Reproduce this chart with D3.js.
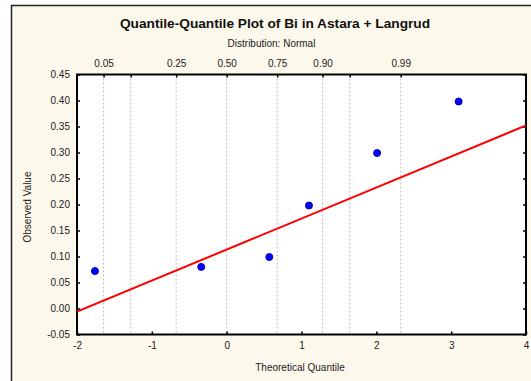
<!DOCTYPE html>
<html><head><meta charset="utf-8">
<script src="https://cdn.jsdelivr.net/npm/d3@7"></script>
<style>body{margin:0;background:#fff;}svg{display:block;font-family:"Liberation Sans",Arial,sans-serif;}</style>
</head><body><svg id="c" width="531" height="381"></svg>
<script>
const theoretical = [-1.76, -0.34, 0.57, 1.10, 2.01, 3.10];
const observed = [0.072, 0.080, 0.099, 0.198, 0.299, 0.398];
const fitLine = [[-2, -0.006], [4, 0.352]];
const xTicks = [-2, -1, 0, 1, 2, 3, 4];
const yTicks = [-0.05, 0, 0.05, 0.10, 0.15, 0.20, 0.25, 0.30, 0.35, 0.40, 0.45];
const probTicks = [0.05, 0.10, 0.25, 0.50, 0.75, 0.90, 0.95, 0.99];
const probLabels = [0.05, 0.25, 0.50, 0.75, 0.90, 0.99];

function invNorm(p){ // inverse normal CDF (Acklam)
  const a=[-3.969683028665376e+01,2.209460984245205e+02,-2.759285104469687e+02,1.383577518672690e+02,-3.066479806614716e+01,2.506628277459239e+00];
  const b=[-5.447609879822406e+01,1.615858368580409e+02,-1.556989798598866e+02,6.680131188771972e+01,-1.328068155288572e+01];
  const c=[-7.784894002430293e-03,-3.223964580411365e-01,-2.400758277161838e+00,-2.549732539343734e+00,4.374664141464968e+00,2.938163982698783e+00];
  const d=[7.784695709041462e-03,3.224671290700398e-01,2.445134137142996e+00,3.754408661907416e+00];
  const pl=0.02425;
  if(p<pl){const q=Math.sqrt(-2*Math.log(p));return (((((c[0]*q+c[1])*q+c[2])*q+c[3])*q+c[4])*q+c[5])/((((d[0]*q+d[1])*q+d[2])*q+d[3])*q+1);}
  if(p>1-pl){const q=Math.sqrt(-2*Math.log(1-p));return -(((((c[0]*q+c[1])*q+c[2])*q+c[3])*q+c[4])*q+c[5])/((((d[0]*q+d[1])*q+d[2])*q+d[3])*q+1);}
  const q=p-0.5,r=q*q;return (((((a[0]*r+a[1])*r+a[2])*r+a[3])*r+a[4])*r+a[5])*q/(((((b[0]*r+b[1])*r+b[2])*r+b[3])*r+b[4])*r+1);
}

const svg = d3.select("#c");
svg.append("rect").attr("x",11.5).attr("y",5.5).attr("width",540).attr("height",400)
  .attr("fill","#fdf8ec").attr("stroke","#222").attr("stroke-width",1.5);

const L=77, R=526, T=74.5, B=334.5;
const x = d3.scaleLinear().domain([-2,4]).range([L,R]);
const y = d3.scaleLinear().domain([-0.05,0.45]).range([B,T]);

svg.append("rect").attr("x",L).attr("y",T).attr("width",R-L).attr("height",B-T).attr("fill","#fff");

svg.append("g").selectAll("line").data(probTicks).enter().append("line")
  .attr("x1",p=>x(invNorm(p))).attr("x2",p=>x(invNorm(p)))
  .attr("y1",T).attr("y2",B).attr("stroke","#bbb").attr("stroke-width",1).attr("stroke-dasharray","2,2");

const hy = s => s.replace("\u2212","-");
const ax = (gen, tr) => svg.append("g").attr("transform",tr).call(gen)
  .call(s=>s.select(".domain").remove())
  .call(s=>s.selectAll("line").attr("stroke","#000").attr("stroke-width",1.5))
  .call(s=>s.selectAll("text").attr("font-size","10px").attr("fill","#222").attr("font-family","Liberation Sans, Arial, sans-serif"));

ax(d3.axisLeft(y).tickValues(yTicks).tickFormat(d=>hy(d3.format(".2f")(d))).tickSizeInner(-3).tickSizeOuter(0).tickPadding(7), `translate(${L},0)`);
ax(d3.axisRight(y).tickValues(yTicks).tickFormat("").tickSizeInner(-3).tickSizeOuter(0), `translate(${R},0)`);
ax(d3.axisBottom(x).tickValues(xTicks).tickFormat(d=>hy(d3.format("d")(d))).tickSizeInner(-3).tickSizeOuter(0).tickPadding(7), `translate(0,${B})`);
ax(d3.axisTop(x).tickValues(probTicks.map(invNorm)).tickFormat((d,i)=>probLabels.includes(probTicks[i])?d3.format(".2f")(probTicks[i]):"").tickSizeInner(-3).tickSizeOuter(0).tickPadding(8), `translate(0,${T})`);

svg.append("rect").attr("x",L).attr("y",T).attr("width",R-L).attr("height",B-T)
  .attr("fill","none").attr("stroke","#000").attr("stroke-width",2);

svg.append("clipPath").attr("id","cp").append("rect").attr("x",L).attr("y",T).attr("width",R-L).attr("height",B-T);

svg.append("path").datum(fitLine).attr("clip-path","url(#cp)")
  .attr("d",d3.line().x(d=>x(d[0])).y(d=>y(d[1])))
  .attr("stroke","#f00").attr("stroke-width",2).attr("fill","none");

svg.selectAll("circle.pt").data(theoretical).enter().append("circle")
  .attr("cx",d=>x(d)).attr("cy",(d,i)=>y(observed[i])).attr("r",3.5)
  .attr("fill","#0000ff").attr("stroke","#0000b0").attr("stroke-width",1);

svg.append("text").attr("x",275).attr("y",28).attr("text-anchor","middle")
  .attr("font-size","13.7px").attr("font-weight","bold").attr("fill","#111").text("Quantile-Quantile Plot of Bi in Astara + Langrud");
svg.append("text").attr("x",271.5).attr("y",47).attr("text-anchor","middle")
  .attr("font-size","10px").attr("fill","#222").text("Distribution: Normal");
svg.append("text").attr("x",300).attr("y",371).attr("text-anchor","middle")
  .attr("font-size","10px").attr("fill","#222").text("Theoretical Quantile");
svg.append("text").attr("transform","translate(31,207) rotate(-90)").attr("text-anchor","middle")
  .attr("font-size","10px").attr("fill","#222").text("Observed Value");
</script></body></html>
